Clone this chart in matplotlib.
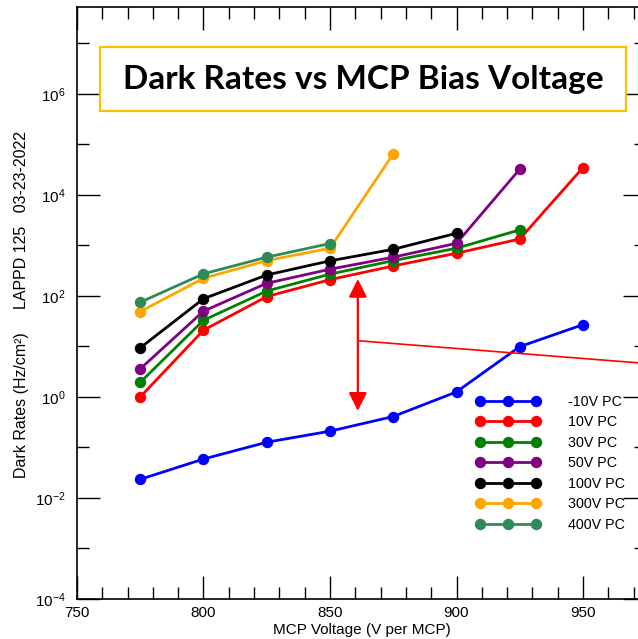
import matplotlib
matplotlib.use("Agg")
import matplotlib.pyplot as plt
from matplotlib.ticker import MultipleLocator, FixedLocator, LogFormatterMathtext, NullFormatter
from matplotlib.patches import Rectangle

plt.rcParams["font.family"] = ["Liberation Sans", "DejaVu Sans"]
plt.rcParams["mathtext.fontset"] = "custom"
plt.rcParams["mathtext.rm"] = "Liberation Sans"
plt.rcParams["mathtext.it"] = "Liberation Sans"

# valores
VOLTAGEM = [775, 800, 825, 850, 875, 900, 925, 950]

PC_M10 = [0.0234, 0.059, 0.127, 0.21, 0.41, 1.26, 9.9, 27]
PC_10 = [1.0, 21, 97, 210, 392, 700, 1340, 34700]
PC_30 = [1.95, 33, 125, 270, 500, 880, 2030]
PC_50 = [3.6, 50, 178, 338, 584, 1100, 32300]
PC_100 = [9.4, 88, 260, 495, 837, 1740]
PC_300 = [49, 224, 500, 880, 65000]
PC_400 = [75, 274, 585, 1090]

SERIES = [
    ("-10V PC", PC_M10, "#0000ff"),
    ("10V PC", PC_10, "#ff0000"),
    ("30V PC", PC_30, "#008000"),
    ("50V PC", PC_50, "#800080"),
    ("100V PC", PC_100, "#000000"),
    ("300V PC", PC_300, "#ffa500"),
    ("400V PC", PC_400, "#2e8b57"),
]

Y_TICKS = [1e-4, 1e-2, 1e0, 1e2, 1e4, 1e6]
Y_TICKS_MENORES = [1e-3, 1e-1, 1e1, 1e3, 1e5, 1e7]

# anotação vermelha
SETA_X = 861
SETA_TOPO = 217
SETA_BASE = 0.53
LINHA_X = [861, 975]
LINHA_Y = [13, 4.6]

fig = plt.figure(figsize=(6.38, 6.39), dpi=100)
ax = fig.add_axes([77 / 638, 40 / 639, 569.25 / 638, 592 / 639])

for rotulo, valores, cor in SERIES:
    ax.plot(VOLTAGEM[:len(valores)], valores, color=cor, lw=2.0, marker="o",
            ms=7.2, label=rotulo)

ax.annotate("", xy=(SETA_X, SETA_TOPO), xytext=(SETA_X, SETA_BASE),
            arrowprops=dict(arrowstyle="<|-|>,head_length=11,head_width=5.5",
                            mutation_scale=1, color="red", lw=1.6,
                            shrinkA=0, shrinkB=0))
ax.plot(LINHA_X, LINHA_Y, color="red", lw=1.2, clip_on=False)

ax.set_yscale("log")
ax.set_xlim(750, 975)
ax.set_ylim(1e-4, 10 ** 7.72)

ax.xaxis.set_major_locator(MultipleLocator(50))
ax.xaxis.set_minor_locator(MultipleLocator(10))
ax.yaxis.set_major_locator(FixedLocator(Y_TICKS))
ax.yaxis.set_major_formatter(LogFormatterMathtext(base=10))
ax.yaxis.set_minor_locator(FixedLocator(Y_TICKS_MENORES))
ax.yaxis.set_minor_formatter(NullFormatter())

ax.tick_params(which="both", direction="in", top=True, right=True, width=1.0,
               labelsize=11)
ax.tick_params(which="major", length=16.5)
ax.tick_params(which="minor", length=8.5)
ax.tick_params(axis="y", which="major", pad=8)
ax.tick_params(axis="x", which="major", pad=5)
for sp in ax.spines.values():
    sp.set_linewidth(1.2)

ax.set_xlabel("MCP Voltage (V per MCP)", fontsize=11, labelpad=2)

fig.text(22 / 638, 1 - 405 / 639, "Dark Rates (Hz/cm²)", rotation=90,
         ha="center", va="center", fontsize=11.5)
fig.text(22 / 638, 1 - 220 / 639, "LAPPD 125   03-23-2022", rotation=90,
         ha="center", va="center", fontsize=11.5)

ax.legend(loc="upper left", bbox_to_anchor=(399 / 569.25, 1 - 388 / 592),
          frameon=False, numpoints=3, handlelength=4.5, handletextpad=1.9,
          labelspacing=0.45, borderpad=0, borderaxespad=0, fontsize=10.3)

# caixa do título
fig.patches.append(Rectangle((100 / 638, 1 - 111 / 639), 526 / 638, 64 / 639,
                             transform=fig.transFigure, fill=True,
                             facecolor="white", edgecolor="#ffc000", lw=1.6))
fig.text(363.5 / 638, 1 - 79 / 639, "Dark Rates vs MCP Bias Voltage",
         ha="center", va="center", fontsize=24, fontweight="bold",
         family=["Lato", "DejaVu Sans"])

fig.savefig("out.png", dpi=100)
